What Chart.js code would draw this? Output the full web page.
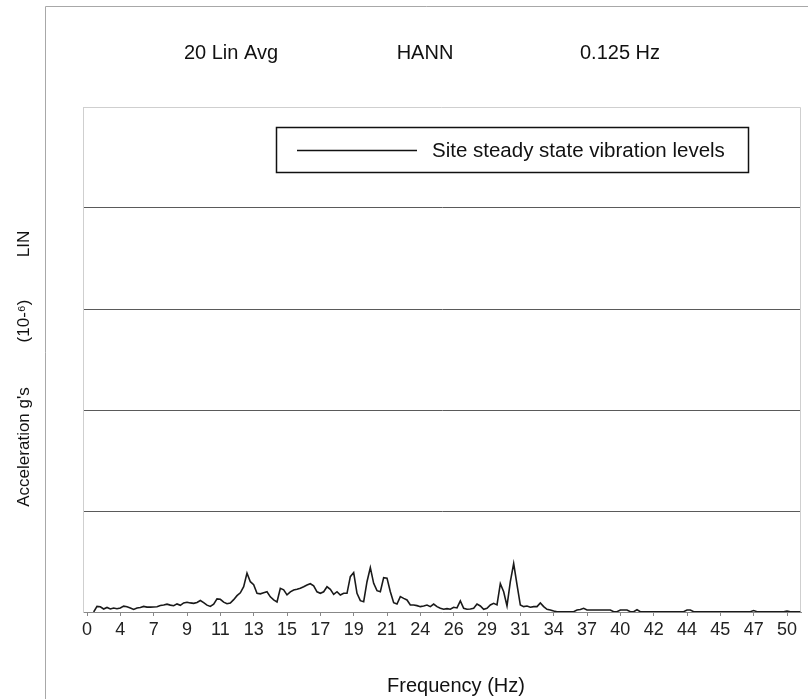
<!DOCTYPE html>
<html>
<head>
<meta charset="utf-8">
<script src="https://cdn.jsdelivr.net/npm/chart.js@4.4.0/dist/chart.umd.min.js"></script>
<style>
  html, body { margin: 0; padding: 0; background: #fff; }
  #wrap { width: 808px; height: 699px; }
</style>
</head>
<body>
<div id="wrap"><canvas id="vibCanvas" width="808" height="699"></canvas></div>
<script>
// tick labels shown every 10 bins along the frequency axis
const tickLabels = ["0", "4", "7", "9", "11", "13", "15", "17", "19", "21", "24",
  "26", "29", "31", "34", "37", "40", "42", "44", "45", "47", "50"];

// acceleration per frequency bin (10^-6 g)
const vibration = [
  null, null, 0, 0.055, 0.052, 0.03, 0.045, 0.03, 0.04, 0.033,
  0.04, 0.058, 0.052, 0.04, 0.025, 0.04, 0.045, 0.055, 0.048, 0.048,
  0.05, 0.052, 0.064, 0.07, 0.078, 0.068, 0.062, 0.08, 0.066, 0.09,
  0.097, 0.09, 0.086, 0.095, 0.114, 0.093, 0.068, 0.055, 0.078, 0.13,
  0.126, 0.098, 0.082, 0.088, 0.122, 0.162, 0.19, 0.25, 0.385, 0.30,
  0.27, 0.185, 0.18, 0.19, 0.2, 0.15, 0.12, 0.1, 0.234, 0.22,
  0.17, 0.2, 0.218, 0.225, 0.235, 0.25, 0.268, 0.28, 0.26, 0.2,
  0.185, 0.2, 0.25, 0.224, 0.175, 0.201, 0.168, 0.185, 0.185, 0.35,
  0.39, 0.185, 0.112, 0.102, 0.3, 0.44, 0.284, 0.211, 0.201, 0.34,
  0.335, 0.201, 0.092, 0.079, 0.152, 0.135, 0.119, 0.069, 0.069, 0.063,
  0.053, 0.059, 0.069, 0.053, 0.079, 0.053, 0.037, 0.027, 0.033, 0.027,
  0.047, 0.04, 0.11, 0.037, 0.027, 0.03, 0.037, 0.079, 0.06, 0.027,
  0.037, 0.069, 0.086, 0.07, 0.28, 0.2, 0.06, 0.3, 0.48, 0.27,
  0.069, 0.053, 0.059, 0.047, 0.053, 0.053, 0.09, 0.053, 0.027, 0.02,
  0.01, 0.003, 0.003, 0.003, 0.003, 0.003, 0.003, 0.02, 0.025, 0.037,
  0.02, 0.02, 0.02, 0.02, 0.02, 0.02, 0.02, 0.02, 0.003, 0.003,
  0.02, 0.02, 0.02, 0.003, 0.003, 0.022, 0.003, 0.003, 0.003, 0.003,
  0.003, 0.003, 0.003, 0.003, 0.003, 0.003, 0.003, 0.003, 0.003, 0.003,
  0.02, 0.02, 0.003, 0.003, 0.003, 0.003, 0.003, 0.003, 0.003, 0.003,
  0.003, 0.003, 0.003, 0.003, 0.003, 0.003, 0.003, 0.003, 0.003, 0.003,
  0.015, 0.003, 0.003, 0.003, 0.003, 0.003, 0.003, 0.003, 0.003, 0.003,
  0.01, 0.003, 0.003, 0.003, 0.003
];

const headerTexts = ["20 Lin Avg", "HANN", "0.125 Hz"];
const seriesName = "Site steady state vibration levels";
const xTitle = "Frequency (Hz)";
const yTitleParts = ["Acceleration g's", "(10-\u2076)", "LIN"];

const fontFamily = "Arial, 'Liberation Sans', 'DejaVu Sans', sans-serif";

const decorations = {
  id: "decorations",
  beforeDatasetsDraw(chart) {
    const { ctx, chartArea: a } = chart;
    ctx.save();
    // outer frame
    ctx.strokeStyle = "#a8a8a8";
    ctx.lineWidth = 1;
    ctx.beginPath();
    ctx.moveTo(45.5, 699);
    ctx.lineTo(45.5, 6.5);
    ctx.lineTo(808, 6.5);
    ctx.stroke();
    // plot box top and right
    ctx.strokeStyle = "#cfcfcf";
    ctx.beginPath();
    ctx.moveTo(a.left, a.top + 0.5);
    ctx.lineTo(a.right - 0.5, a.top + 0.5);
    ctx.lineTo(a.right - 0.5, a.bottom);
    ctx.stroke();
    ctx.restore();
  },
  afterDraw(chart) {
    const { ctx } = chart;
    ctx.save();
    ctx.fillStyle = "#111";
    ctx.textBaseline = "middle";
    ctx.textAlign = "center";
    ctx.font = "20px " + fontFamily;
    const hx = [231, 425, 620];
    headerTexts.forEach((t, i) => ctx.fillText(t, hx[i], 53));

    // legend box
    ctx.fillStyle = "#fff";
    ctx.fillRect(276, 127, 473, 46);
    ctx.strokeStyle = "#111";
    ctx.lineWidth = 1.5;
    ctx.strokeRect(276.5, 127.5, 472, 45);
    ctx.beginPath();
    ctx.moveTo(297, 150.5);
    ctx.lineTo(417, 150.5);
    ctx.lineWidth = 1.3;
    ctx.stroke();
    ctx.fillStyle = "#111";
    ctx.textAlign = "left";
    ctx.font = "20.5px " + fontFamily;
    ctx.fillText(seriesName, 432, 151);

    // axis titles
    ctx.textAlign = "center";
    ctx.font = "20px " + fontFamily;
    ctx.fillText(xTitle, 456, 686);
    ctx.translate(24, 0);
    ctx.rotate(-Math.PI / 2);
    ctx.font = "17px " + fontFamily;
    const ty = [447, 321, 244];
    yTitleParts.forEach((t, i) => ctx.fillText(t, -ty[i], 0));
    ctx.restore();
  }
};

new Chart(document.getElementById("vibCanvas"), {
  type: "line",
  data: {
    datasets: [{
      label: seriesName,
      data: vibration.map((v, i) => ({ x: i, y: v })),
      borderColor: "#1a1a1a",
      borderWidth: 1.6,
      pointRadius: 0,
      tension: 0,
      fill: false
    }]
  },
  options: {
    responsive: false,
    animation: false,
    layout: { padding: { top: 107, right: 7, left: 0, bottom: 0 } },
    plugins: { legend: { display: false }, tooltip: { enabled: false } },
    scales: {
      x: {
        type: "linear",
        min: -1.2,
        max: 214.2,
        afterBuildTicks: s => { s.ticks = tickLabels.map((_, k) => ({ value: k * 10 })); },
        afterFit: s => { s.height = 87; },
        ticks: {
          callback: v => tickLabels[Math.round(v / 10)],
          font: { size: 18, family: fontFamily },
          color: "#222",
          maxRotation: 0,
          autoSkip: false,
          padding: 3
        },
        grid: { drawOnChartArea: false, drawTicks: true, tickLength: 4, tickColor: "#888" },
        border: { color: "#888", width: 1 }
      },
      y: {
        min: 0,
        max: 5,
        afterBuildTicks: s => { s.ticks = [0, 1, 2, 3, 4, 5].map(v => ({ value: v })); },
        afterFit: s => { s.width = 83; },
        ticks: { display: false },
        grid: {
          color: c => (c.tick && c.tick.value > 0 && c.tick.value < 5) ? "#5a5a5a" : "rgba(0,0,0,0)",
          drawTicks: false
        },
        border: { color: "#cfcfcf" }
      }
    }
  },
  plugins: [decorations]
});
</script>
</body>
</html>
